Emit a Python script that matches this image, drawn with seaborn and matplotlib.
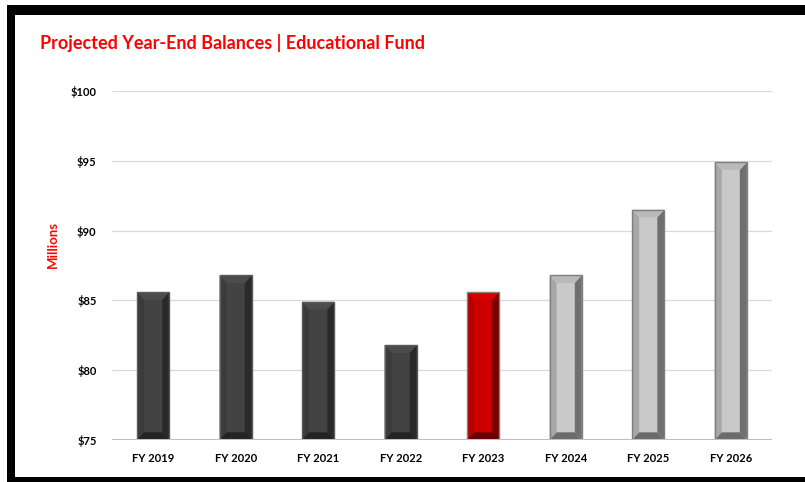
import matplotlib
matplotlib.use("Agg")
import matplotlib.pyplot as plt
import seaborn as sns
import pandas as pd
from matplotlib.patches import Polygon, Rectangle
from matplotlib.ticker import FuncFormatter

years = ["FY 2019", "FY 2020", "FY 2021", "FY 2022", "FY 2023", "FY 2024", "FY 2025", "FY 2026"]
balances = [85.6, 86.8, 84.9, 81.8, 85.6, 86.8, 91.5, 94.9]
kinds = ["actual", "actual", "actual", "actual", "current", "projected", "projected", "projected"]
y_ticks = [75, 80, 85, 90, 95, 100]

# face, left bevel, right bevel, top bevel, bottom bevel, outline
styles = {
    "actual": ("#434343", "#3b3b3b", "#2a2a2a", "#4c4c4c", "#232323", "#5a5a5a"),
    "current": ("#cc0000", "#b80000", "#780000", "#d80000", "#650000", "#7f7f7f"),
    "projected": ("#c9c9c9", "#a7a7a7", "#6f6f6f", "#b9b9b9", "#6b6b6b", "#7f7f7f"),
}

df = pd.DataFrame({"year": years, "balance": balances, "kind": kinds})

sns.set_theme(style="white")
plt.rcParams["font.family"] = ["Lato", "DejaVu Sans"]

fig = plt.figure(figsize=(8.05, 4.82), dpi=100)
ax = fig.add_axes([0.139, 0.0871, 0.82, 0.724])

palette = [styles[k][0] for k in kinds]
sns.barplot(data=df, x="year", y="balance", hue="year", palette=palette,
            legend=False, width=0.39, saturation=1, ax=ax, zorder=3, linewidth=0)

ax.set_ylim(75, 100)
ax.set_yticks(y_ticks)
ax.yaxis.set_major_formatter(FuncFormatter(lambda v, p: f"${v:.0f}"))
ax.grid(axis="y", color="#d9d9d9", linewidth=0.9, zorder=0)
ax.grid(axis="x", visible=False)
for s in ax.spines.values():
    s.set_visible(False)
ax.tick_params(axis="both", length=0, labelsize=8, colors="black")
ax.tick_params(axis="y", pad=11)
ax.tick_params(axis="x", pad=9)
for lab in ax.get_xticklabels() + ax.get_yticklabels():
    lab.set_fontweight("bold")
ax.set_xlabel("")
ax.set_ylabel("")
ax.set_xlim(-0.5, 7.5)

# bevelled faces on every bar
fig.canvas.draw()
ybot = ax.get_ylim()[0]
bx = 0.085   # horizontal bevel in category units
by = 0.55    # vertical bevel in data units
for patch, kind in zip(ax.patches, kinds):
    face, left, right, top, bottom, edge = styles[kind]
    x0 = patch.get_x()
    x1 = x0 + patch.get_width()
    y1 = patch.get_y() + patch.get_height()
    y0 = max(patch.get_y(), ybot)
    polys = [
        ([(x0, y0), (x0, y1), (x0 + bx, y1 - by), (x0 + bx, y0 + by)], left),
        ([(x1, y0), (x1, y1), (x1 - bx, y1 - by), (x1 - bx, y0 + by)], right),
        ([(x0, y1), (x1, y1), (x1 - bx, y1 - by), (x0 + bx, y1 - by)], top),
        ([(x0, y0), (x1, y0), (x1 - bx, y0 + by), (x0 + bx, y0 + by)], bottom),
    ]
    for pts, col in polys:
        ax.add_patch(Polygon(pts, closed=True, facecolor=col, edgecolor="none", zorder=4))
    ax.add_patch(Rectangle((x0, y0), x1 - x0, y1 - y0, facecolor="none",
                           edgecolor=edge, linewidth=1.0, zorder=5))

ax.axhline(75, color="#bfbfbf", linewidth=1.5, zorder=6)

W, H = 805, 482
fig.text(40 / W, 1 - 43 / H, "Projected Year-End Balances | Educational Fund",
         color="red", fontsize=13, fontweight="bold", va="center", ha="left")
fig.text(53 / W, 1 - 245 / H, "Millions", color="red", fontsize=9.5,
         fontweight="bold", rotation=90, va="center", ha="center")

# frame around the chart
for (x, y, w, h) in [(7, 5, W - 7, 10), (7, 5, 8, H - 5), (7, 477, W - 7, 5)]:
    fig.add_artist(Rectangle((x / W, 1 - (y + h) / H), w / W, h / H,
                             transform=fig.transFigure, facecolor="black",
                             edgecolor="none", zorder=10))

fig.savefig("out.png", dpi=100)
